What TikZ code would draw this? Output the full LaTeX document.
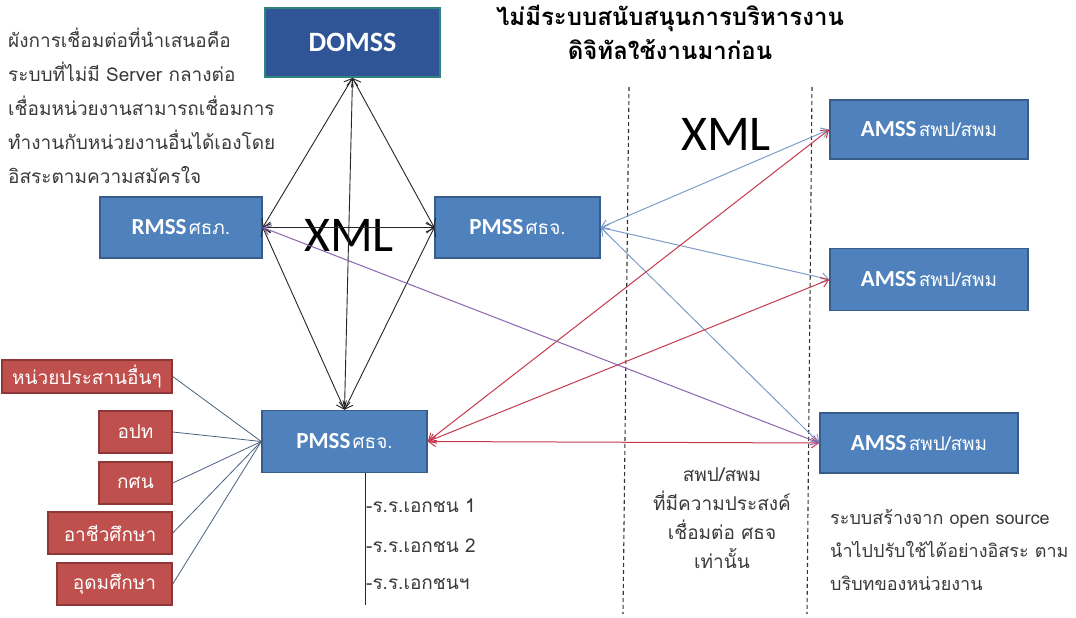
\documentclass[tikz,border=0pt]{standalone}
\usepackage{fontspec}
\setmainfont{Carlito}
\newfontfamily\thai[Script=Thai]{Loma}
\usetikzlibrary{arrows.meta}
\definecolor{boxblue}{HTML}{4F81BD}
\definecolor{boxline}{HTML}{385D8A}
\definecolor{domfill}{HTML}{2F5597}
\definecolor{domline}{HTML}{31857C}
\definecolor{redfill}{HTML}{C0504D}
\definecolor{redline}{HTML}{8C3836}
\definecolor{linkgrey}{HTML}{4A6280}
\definecolor{linkblue}{HTML}{7F9DC9}
\definecolor{linkred}{HTML}{C53A4E}
\definecolor{linkpurple}{HTML}{8A64B0}
\definecolor{txtgrey}{HTML}{3A3A3A}
\newcommand\boxlab[2]{{\fontsize{23}{27}\selectfont\bfseries #1}\ {\thai\fontsize{19}{22}\selectfont #2}}
\begin{document}
\begin{tikzpicture}[x=1pt,y=-1pt,
  bluebox/.style={draw=boxline, line width=1.5pt, fill=boxblue, text=white, inner sep=0pt},
  redbox/.style={draw=redline, line width=1.5pt, fill=redfill, text=white, inner sep=0pt,
    font=\thai\fontsize{19}{22}\selectfont},
  blk/.style={draw=black!85, line width=0.9pt, {Straight Barb[length=7pt,width=11pt]}-{Straight Barb[length=7pt,width=11pt]}},
  colarrow/.style={line width=1pt, {Straight Barb[length=7pt,width=10pt]}-{Straight Barb[length=7pt,width=10pt]}},
  feed/.style={draw=linkgrey, line width=0.8pt},
  sep/.style={draw=black!80, line width=1.1pt, dash pattern=on 4pt off 3pt},
  bodytxt/.style={text=txtgrey, inner sep=0pt, font=\thai\fontsize{19}{34}\selectfont},
  xmltxt/.style={inner sep=0pt, font=\fontsize{50}{50}\selectfont}
]
\useasboundingbox (0,0) rectangle (1076,618);
\fill[white] (0,0) rectangle (1076,618);

% separators
\coordinate (d1t) at (629,87); \coordinate (d1b) at (623,614);
\coordinate (d2t) at (812,87); \coordinate (d2b) at (807,614);
\draw[sep] (d1t) -- (d1b);
\draw[sep] (d2t) -- (d2b);

% blue boxes
\node[draw=domline, line width=2pt, fill=domfill, text=white, inner sep=0pt,
      minimum width=175pt, minimum height=69pt, font=\fontsize{28}{32}\selectfont\bfseries]
      (domss) at (352.5,42.5) {DOMSS};
\node[bluebox, minimum width=162pt, minimum height=61pt] (rmss) at (181,227.5) {\boxlab{RMSS}{ศธภ.}};
\node[bluebox, minimum width=165pt, minimum height=61pt] (pmsst) at (517.5,227.5) {\boxlab{PMSS}{ศธจ.}};
\node[bluebox, minimum width=165pt, minimum height=62pt] (pmssb) at (344.5,441.5) {\boxlab{PMSS}{ศธจ.}};
\node[bluebox, minimum width=198pt, minimum height=59pt] (amss1) at (929,129.5) {\boxlab{AMSS}{สพป/สพม}};
\node[bluebox, minimum width=198pt, minimum height=62pt] (amss2) at (929,279.5) {\boxlab{AMSS}{สพป/สพม}};
\node[bluebox, minimum width=198pt, minimum height=60pt] (amss3) at (919,443) {\boxlab{AMSS}{สพป/สพม}};

% red boxes
\node[redbox, minimum width=170pt, minimum height=33pt] (r1) at (87,376.5) {หน่วยประสานอื่นๆ};
\node[redbox, minimum width=73pt, minimum height=42pt] (r2) at (135.5,432) {อปท};
\node[redbox, minimum width=73pt, minimum height=42pt] (r3) at (135.5,483) {กศน};
\node[redbox, minimum width=124pt, minimum height=42pt] (r4) at (110,533) {อาชีวศึกษา};
\node[redbox, minimum width=115pt, minimum height=42pt] (r5) at (114.5,584) {อุดมศึกษา};
\foreach \r in {r1,r2,r3,r4,r5} \draw[feed] (\r.east) -- (pmssb.west);

% XML labels
\node[xmltxt] (xml1) at (349,235) {XML};
\node[xmltxt] (xml2) at (726,134) {XML};

% black arrows
\draw[blk] (domss.south) -- (rmss.east);
\draw[blk] (domss.south) -- (pmsst.west);
\draw[blk] (domss.south) -- (pmssb.north);
\draw[blk] (rmss.east) -- (pmsst.west);
\draw[blk] (rmss.east) -- (pmssb.north);
\draw[blk] (pmsst.west) -- (pmssb.north);

% coloured arrows
\draw[colarrow, draw=linkblue] (pmsst.east) -- (amss1.west);
\draw[colarrow, draw=linkblue] (pmsst.east) -- (amss2.west);
\draw[colarrow, draw=linkblue] (pmsst.east) -- (amss3.west);
\draw[colarrow, draw=linkred] (pmssb.east) -- (amss1.west);
\draw[colarrow, draw=linkred] (pmssb.east) -- (amss2.west);
\draw[colarrow, draw=linkred] (pmssb.east) -- (amss3.west);
\draw[colarrow, draw=linkpurple] (rmss.east) -- (amss3.west);

% private schools line
\coordinate (vtop) at (365,473);
\coordinate (vbot) at (365,605);
\draw[black!85, line width=1pt] (vtop) -- (vbot);
\node[bodytxt, anchor=west] (s1) at (366,506) {-ร.ร.เอกชน 1};
\node[bodytxt, anchor=west] (s2) at (366,546) {-ร.ร.เอกชน 2};
\node[bodytxt, anchor=west] (s3) at (366,584) {-ร.ร.เอกชนฯ};

% texts
\node[font=\thai\bfseries\fontsize{24}{34}\selectfont, align=center, inner sep=0pt, anchor=north]
  (title) at (670,5) {ไม่มีระบบสนับสนุนการบริหารงาน\\ดิจิทัลใช้งานมาก่อน};
\node[bodytxt, align=left, anchor=north west] (intro) at (8,28)
  {ผังการเชื่อมต่อที่นำเสนอคือ\\ระบบที่ไม่มี Server กลางต่อ\\เชื่อมหน่วยงานสามารถเชื่อมการ\\ทำงานกับหน่วยงานอื่นได้เองโดย\\อิสระตามความสมัครใจ};
\node[bodytxt, align=center, anchor=north, font=\thai\fontsize{19}{29}\selectfont] (mid) at (722,468)
  {สพป/สพม\\ที่มีความประสงค์\\เชื่อมต่อ ศธจ\\เท่านั้น};
\node[bodytxt, align=left, anchor=north west, font=\thai\fontsize{18}{33}\selectfont] (note) at (830,509)
  {ระบบสร้างจาก open source\\นำไปปรับใช้ได้อย่างอิสระ ตาม\\บริบทของหน่วยงาน};
\end{tikzpicture}
\end{document}
